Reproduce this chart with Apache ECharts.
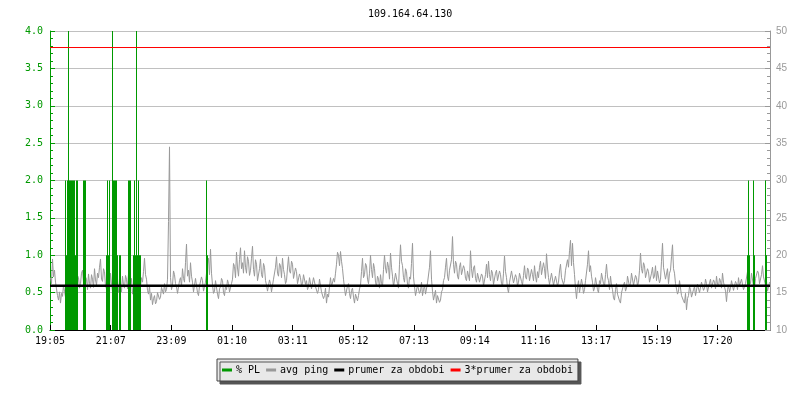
<!DOCTYPE html>
<html>
<head>
<meta charset="utf-8">
<script src="https://cdn.jsdelivr.net/npm/echarts@6/dist/echarts.min.js"></script>
<style>html,body{margin:0;padding:0;background:#fff}#c{width:800px;height:400px}</style>
</head>
<body>
<div id="c"></div>
<script>
// ---- data ----
var chartTitle = '109.164.64.130';
var tickLabels = ['19:05','21:07','23:09','01:10','03:11','05:12','07:13','09:14','11:16','13:17','15:19','17:20'];
var totalMinutes = 1440;
var tickStepMin = 1335 / 11;      // label spacing in minutes
var pingStepMin = 2;              // ping sample spacing
var plSampleMin = 2;              // packet-loss sample length
// avg ping (ms), one value every 2 minutes from 19:05
var pingMs = [
17.0,16.2,19.5,17.1,18.0,16.4,15.5,14.6,14.0,15.1,13.6,14.9,14.5,16.0,15.2,14.4,16.0,17.8,17.2,15.9,
18.5,16.0,16.5,17.9,17.8,15.2,15.8,17.3,17.0,15.6,16.2,17.6,18.0,16.4,15.5,17.1,16.8,15.4,17.5,16.2,
15.6,17.4,16.8,15.7,18.2,16.7,16.0,17.6,17.0,18.4,19.5,16.8,16.5,18.2,17.8,15.9,15.5,17.2,16.8,15.3,
17.6,16.1,15.2,17.0,16.6,15.4,18.0,16.3,15.0,16.9,16.4,15.1,17.2,16.0,15.6,17.3,16.8,15.5,17.5,16.4,
15.8,16.9,14.8,15.6,16.5,14.7,15.4,16.6,17.2,15.5,15.8,17.0,16.4,17.8,19.6,17.4,16.8,15.3,14.8,15.9,
14.0,14.9,13.4,14.2,14.6,13.5,13.8,15.0,15.2,14.1,14.4,15.7,15.6,14.8,16.2,15.1,15.4,16.8,24.5,34.5,
17.0,15.4,16.0,17.9,17.4,16.2,15.8,14.9,15.0,16.6,17.0,15.8,18.2,16.9,16.4,19.0,21.5,17.2,18.0,16.4,
19.0,17.2,16.4,15.1,15.2,16.9,16.8,15.0,14.6,15.9,15.8,17.1,16.6,15.2,15.0,16.4,17.6,18.8,19.6,17.4,
20.8,17.6,16.0,14.9,15.2,16.6,16.4,14.8,14.2,15.5,15.8,16.9,16.6,15.0,14.6,15.9,15.4,16.7,16.2,15.1,
15.0,16.2,16.8,18.9,18.5,17.0,20.4,18.3,17.2,19.4,21.0,18.2,19.0,17.6,20.6,18.4,17.6,19.8,19.2,17.3,
18.0,19.6,21.2,18.1,17.2,19.4,18.8,16.6,16.4,18.2,19.5,17.4,17.0,18.9,18.4,16.6,16.0,15.2,15.4,16.7,
16.2,15.1,15.0,16.8,16.6,18.4,19.8,17.6,17.2,18.9,18.6,17.0,19.6,18.1,17.4,16.2,16.6,18.3,19.8,17.9,
17.6,19.2,18.8,16.9,16.8,18.3,17.8,16.2,16.4,17.5,17.0,15.9,16.2,17.4,17.6,16.1,16.6,15.4,15.8,17.0,
16.8,15.5,15.6,17.0,17.2,15.8,16.0,14.9,15.4,16.8,16.6,15.1,15.2,14.2,14.6,15.6,13.6,14.8,14.4,15.8,
17.0,15.8,15.6,16.9,16.4,17.6,18.8,20.4,20.0,18.6,20.5,19.2,18.2,16.8,15.6,14.6,14.8,15.9,16.2,14.9,
14.2,15.3,15.6,14.4,13.6,14.8,15.0,13.9,14.6,15.5,16.0,17.8,19.6,17.0,17.4,18.9,18.6,16.8,16.2,17.6,
20.0,18.1,17.0,18.9,18.2,16.4,15.8,17.2,16.8,15.6,17.4,16.2,15.8,18.1,20.0,18.3,17.6,19.1,18.4,16.8,
20.3,18.4,17.2,15.8,16.0,17.6,17.8,16.2,15.6,18.8,21.4,19.2,18.6,17.0,16.4,18.2,17.8,16.1,15.6,17.1,
16.8,18.9,21.6,17.1,15.8,14.6,14.8,16.0,16.2,14.9,15.2,16.4,14.6,15.4,16.0,14.8,15.0,16.3,16.4,18.4,
20.6,16.8,15.2,14.0,14.2,15.3,13.6,14.6,14.8,13.7,14.0,15.1,15.4,16.6,17.0,18.4,19.6,17.2,16.6,18.0,
18.2,19.4,22.5,18.8,17.6,19.2,18.8,17.2,16.8,18.4,19.0,17.4,17.2,18.6,18.2,16.9,16.6,17.9,17.8,16.6,
20.6,18.2,17.0,18.3,18.6,16.9,16.4,17.6,17.8,16.4,16.2,17.5,17.2,15.9,15.8,17.4,18.8,17.0,19.2,17.4,
16.6,18.0,17.6,16.1,16.2,17.6,18.0,16.6,16.8,17.9,17.4,16.2,15.8,17.6,19.9,17.8,17.0,15.6,15.0,16.4,
16.6,17.9,17.8,16.3,16.2,17.4,17.0,15.9,16.4,17.6,17.8,16.5,16.0,17.3,18.6,17.1,16.8,18.3,18.0,16.6,
16.6,18.1,17.4,16.6,18.6,17.2,16.4,17.8,17.0,18.4,19.2,17.4,17.6,19.0,18.2,16.9,20.2,18.3,17.0,16.1,
16.2,17.6,17.4,16.0,15.8,17.2,17.0,15.9,16.4,17.9,18.8,17.0,17.2,16.1,16.6,18.0,17.8,19.4,18.4,20.6,
22.0,18.6,21.6,19.0,17.4,15.6,14.2,15.8,16.6,15.0,15.2,16.8,16.0,14.9,15.4,16.6,16.8,18.8,20.6,17.8,
18.6,17.2,16.4,15.2,15.6,17.0,16.8,15.4,15.0,16.6,16.2,17.6,17.6,16.2,15.8,17.4,18.8,17.1,16.6,15.4,
17.2,16.0,15.4,14.3,14.0,15.4,16.2,14.8,15.0,13.9,13.6,15.0,14.8,16.0,16.4,15.2,15.6,17.2,17.0,15.8,
16.2,17.6,17.4,16.0,15.8,17.3,17.0,15.9,16.4,18.0,20.3,18.2,17.6,19.0,18.6,17.0,16.8,18.2,17.8,16.4,
16.4,17.6,18.4,16.9,17.2,18.6,16.6,17.9,17.8,16.3,16.8,19.2,21.6,18.4,18.2,16.8,17.0,18.2,16.2,17.6,
18.0,19.8,21.4,18.2,17.6,16.2,16.0,14.8,15.2,16.6,16.4,14.6,14.8,13.9,13.6,14.9,12.7,14.2,14.6,15.8,
15.4,14.4,14.2,15.4,15.8,14.6,14.8,16.1,16.0,15.0,15.2,16.4,16.6,15.3,15.6,16.8,16.2,15.1,15.0,16.3,
16.8,15.6,15.4,16.7,16.4,15.5,17.2,16.1,15.8,16.9,16.6,15.6,17.6,16.4,16.2,15.2,13.8,15.4,16.0,15.1,
15.6,16.6,16.8,15.3,15.4,16.5,16.2,15.4,17.0,15.9,15.8,16.8,16.6,15.4,15.2,16.2,16.4,17.8,18.4,16.6,
16.2,17.6,17.4,15.9,15.6,16.9,16.8,17.9,17.6,16.2,16.0,17.4,18.6,17.1,17.2,16.0,16.6,15.2,15.4,16.4
];
// packet loss samples: minute from start and % PL
var plMinutes = [30,32,34,36,38,40,42,44,46,48,50,52,54, 66,68,70, 112,114,116,118, 124,126,128,130,132,134, 138,140, 156,158,160, 166,168,170,172,174,176,178,180, 312,314, 1394,1396,1398, 1406,1408, 1430,1432];
var plValues  = [2,1,2,4,2,2,2,2,2,2,1,2,2, 2,2,2, 1,2,1,2, 4,2,2,2,2,1, 1,1, 2,2,2, 1,2,1,4,1,2,1,1, 2,1, 1,2,1, 2,1, 2,1];
var avgPing = 15.93; // prumer za obdobi (ms)
var seriesNames = ['% PL','avg ping','prumer za obdobi','3*prumer za obdobi'];

// ---- chart ----
var mono = 'DejaVu Sans Mono';
var chart = echarts.init(document.getElementById('c'), null, {renderer:'canvas'});
var pingData = pingMs.map(function(v,i){return [i*pingStepMin + pingStepMin/2, v];});
var plData = plMinutes.map(function(m,i){return [m + plSampleMin/2, plValues[i]];});
chart.setOption({
  animation:false,
  backgroundColor:'#fff',
  title:{text:chartTitle, left:368, top:9, padding:0,
    textStyle:{fontFamily:mono, fontSize:10, fontWeight:'normal', color:'#000'}},
  legend:{
    data:[seriesNames[0],seriesNames[1],seriesNames[2],seriesNames[3]],
    left:217, top:359, padding:[6,5,6,5], itemGap:6, itemWidth:10, itemHeight:3,
    icon:'rect',
    backgroundColor:'#e8e8e8', borderColor:'#444', borderWidth:1,
    shadowColor:'#555', shadowBlur:0, shadowOffsetX:3, shadowOffsetY:3,
    textStyle:{fontFamily:mono, fontSize:10, color:'#000', padding:[0,0,0,-1]}
  },
  grid:{left:50, right:30, top:31, bottom:70},
  xAxis:{
    type:'value', min:0, max:totalMinutes, interval:tickStepMin,
    axisLine:{lineStyle:{color:'#000', width:1}},
    axisTick:{inside:true, length:5, lineStyle:{color:'#000'}},
    axisLabel:{margin:6, showMaxLabel:false, fontFamily:mono, fontSize:10, color:'#000',
      formatter:function(v){var k=Math.round(v/tickStepMin); return tickLabels[k]||'';}},
    splitLine:{show:false}
  },
  yAxis:[{
    type:'value', min:0, max:4, interval:0.5, position:'left',
    axisLine:{show:true, lineStyle:{color:'#009900'}},
    axisTick:{show:true, inside:true, length:5, lineStyle:{color:'#009900'}},
    minorTick:{show:true, splitNumber:5, length:3, lineStyle:{color:'#009900'}},
    axisLabel:{margin:7, fontFamily:mono, fontSize:10, color:'#009900',
      formatter:function(v){return v.toFixed(1);}},
    splitLine:{show:true, lineStyle:{color:'#c0c0c0', width:1}}
  },{
    type:'value', min:10, max:50, interval:5, position:'right',
    axisLine:{show:true, lineStyle:{color:'#999'}},
    axisTick:{show:true, inside:true, length:5, lineStyle:{color:'#999'}},
    minorTick:{show:true, splitNumber:5, length:3, lineStyle:{color:'#999'}},
    axisLabel:{margin:6, fontFamily:'Liberation Sans', fontSize:10, color:'#999'},
    splitLine:{show:false}
  }],
  series:[{
    name:seriesNames[1], type:'line', yAxisIndex:1, data:pingData,
    showSymbol:false, symbol:'none', color:'#999',
    lineStyle:{color:'#999', width:1}, z:2
  },{
    name:seriesNames[0], type:'bar', yAxisIndex:0, data:plData,
    barWidth:1, color:'#009900', itemStyle:{color:'#009900'}, z:3
  },{
    name:seriesNames[2], type:'line', yAxisIndex:1,
    data:[[0,avgPing],[totalMinutes,avgPing]],
    showSymbol:false, symbol:'none', color:'#000',
    lineStyle:{color:'#000', width:2.5}, z:4
  },{
    name:seriesNames[3], type:'line', yAxisIndex:1,
    data:[[0,3*avgPing],[totalMinutes,3*avgPing]],
    showSymbol:false, symbol:'none', color:'#ff0000',
    lineStyle:{color:'#ff0000', width:1}, z:4
  }]
});
</script>
</body>
</html>
